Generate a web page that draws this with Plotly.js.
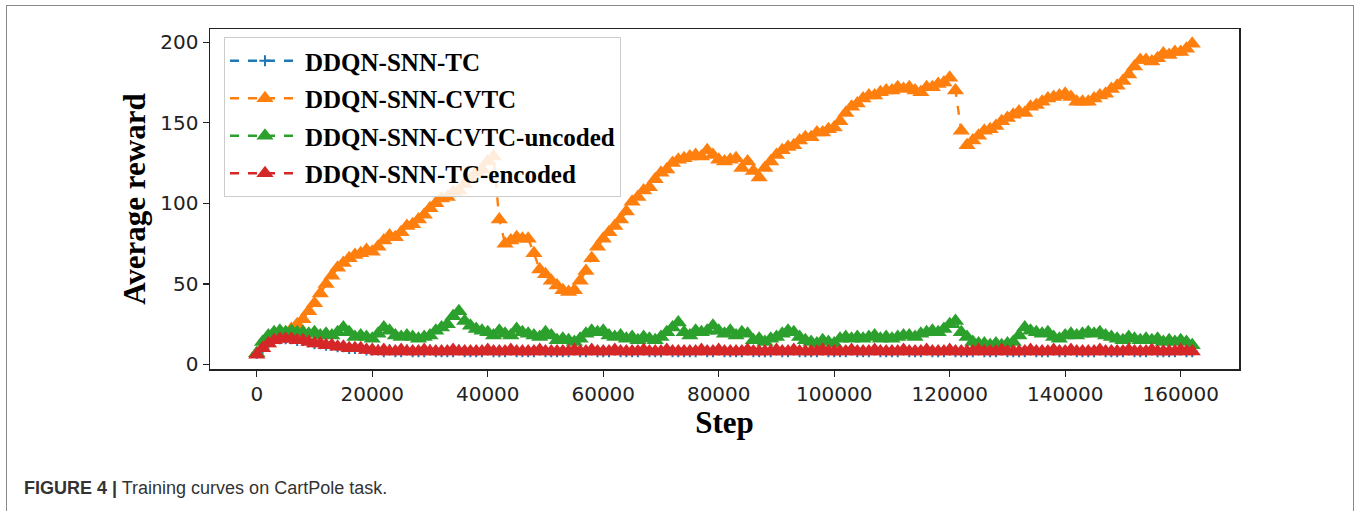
<!DOCTYPE html>
<html>
<head>
<meta charset="utf-8">
<script src="https://cdn.plot.ly/plotly-3.0.1.min.js"></script>
<style>
  html, body { margin: 0; padding: 0; background: #ffffff; }
  #wrap { position: relative; width: 1357px; height: 511px; overflow: hidden; }
  #frame { position: absolute; left: 6px; top: 5px; width: 1348px; height: 520px;
           border: 1.5px solid #8a8a8a; box-sizing: border-box; pointer-events: none; }
  #chart { position: absolute; left: 0; top: 0; width: 1357px; height: 511px; }
</style>
</head>
<body>
<div id="wrap">
  <div id="chart"></div>
  <div id="frame"></div>
</div>
<script>
// ---------------- data ----------------
const seriesNames = ["DDQN-SNN-TC", "DDQN-SNN-CVTC", "DDQN-SNN-CVTC-uncoded", "DDQN-SNN-TC-encoded"];
const stepInterval = 1000;   // one point logged every 1000 steps (0 ... 162000)

const rewardTC = [
  7,10,13,15,16,16,16,15,15,14, 13,13,12,12,11,11,10,10,10,9,
  9,9,8,9,8,8,9,8,8,8, 9,8,8,8,8,9,8,8,8,8,
  9,8,8,8,9,8,8,8,8,9, 8,8,8,8,8,9,8,8,9,8,
  8,8,9,8,8,8,8,9,8,8, 8,9,8,8,8,8,8,9,8,8,
  9,8,8,8,8,9,8,8,8,8, 9,8,8,9,8,8,8,8,9,8,
  8,8,8,9,8,8,8,9,8,8, 8,8,9,8,8,8,9,8,8,8,
  9,8,8,8,8,9,8,8,8,9, 8,8,8,8,9,8,8,8,9,8,
  8,9,8,8,8,8,9,8,8,8, 8,9,8,8,8,9,8,8,8,8,
  9,8,8
];

const rewardCVTC = [
  7,10,13,15,17,19,22,25,28,33, 38,44,50,55,60,63,66,68,69,71,
  70,73,77,80,79,82,86,87,90,93, 97,100,103,104,107,108,112,115,119,121,
  126,129,90,75,77,79,78,78,69,59, 56,52,49,46,45,46,52,58,66,73,
  78,82,86,90,95,101,104,108,110,115, 119,121,125,127,128,129,130,129,133,130,
  127,126,127,128,122,126,120,116,122,126, 130,133,135,136,139,141,141,144,144,146,
  147,151,156,160,162,165,167,167,169,170, 170,172,171,172,170,169,172,172,174,175,
  178,170,145,136,139,142,145,146,148,151, 153,155,157,156,160,161,163,165,166,167,
  168,166,163,163,163,165,167,168,171,173, 176,180,185,189,189,188,190,193,192,194,
  194,196,199
];

const rewardCVTCUncoded = [
  7,14,18,20,21,20,21,20,20,19, 20,18,19,18,20,23,20,17,18,17,
  16,19,23,21,18,17,18,17,16,17, 18,21,23,25,30,33,27,24,22,21,
  20,18,21,19,18,22,20,19,18,17, 20,18,15,16,15,14,16,19,21,20,
  21,18,17,18,16,17,15,17,16,15, 17,20,23,26,20,18,21,20,21,24,
  21,19,21,18,20,19,15,16,14,16, 17,19,21,20,17,15,14,13,15,14,
  13,16,17,16,17,16,17,18,16,17, 16,17,18,18,17,19,20,21,20,22,
  25,27,20,17,14,13,13,12,13,12, 13,14,18,23,21,20,19,20,17,16,
  18,19,18,19,20,19,20,18,17,16, 15,17,16,15,16,15,16,14,15,14,
  15,14,12
];

const rewardTCEncoded = [
  6,10,13,15,16,16,16,15,15,14, 13,13,12,12,11,11,10,10,10,9,
  9,8,9,8,8,9,8,8,8,9, 8,8,8,8,9,8,8,8,8,8,
  9,8,8,8,9,8,8,8,8,9, 8,8,8,8,8,9,8,8,9,8,
  8,8,9,8,8,8,8,9,8,8, 8,9,8,8,8,8,8,9,8,8,
  9,8,8,8,8,9,8,8,8,8, 9,8,8,9,8,8,8,8,9,8,
  8,8,8,9,8,8,8,9,8,8, 8,8,9,8,8,8,9,8,8,8,
  9,8,8,8,8,9,8,8,8,9, 8,8,8,8,9,8,8,8,9,8,
  8,9,8,8,8,8,9,8,8,8, 8,9,8,8,8,9,8,8,8,8,
  9,8,8
];

const xTickVals = [0, 20000, 40000, 60000, 80000, 100000, 120000, 140000, 160000];
const yTickVals = [0, 50, 100, 150, 200];
const xTitle = "Step";
const yTitle = "Average reward";
const captionBold = "FIGURE 4 |";
const captionText = "Training curves on CartPole task.";

// ---------------- build ----------------
const steps = rewardCVTC.map((_, i) => i * stepInterval);
const colors = ["#1f77b4", "#ff7f0e", "#2ca02c", "#d62728"];
const allValues = [rewardTC, rewardCVTC, rewardCVTCUncoded, rewardTCEncoded];
const symbols = ["cross-thin", "triangle-up", "triangle-up", "triangle-up"];

const traces = allValues.map((vals, k) => ({
  type: "scatter",
  mode: "lines+markers",
  name: seriesNames[k],
  legendgroup: "g" + k,
  x: steps,
  y: vals,
  line: { color: colors[k], width: 2.4, dash: "dash" },
  marker: {
    symbol: symbols[k],
    size: k === 0 ? 8 : 15,
    color: colors[k],
    line: { color: colors[k], width: k === 0 ? 2 : 0 }
  }
}));

const W = 1357, H = 511;
const ml = 210, mr = W - 1239, mt = 29, mb = H - 369;
const pw = W - ml - mr, ph = H - mt - mb;
const px = v => (v - ml) / pw;
const py = v => (H - mb - v) / ph;

const layout = {
  width: W, height: H,
  margin: { l: ml, r: mr, t: mt, b: mb, pad: 0 },
  paper_bgcolor: "#ffffff",
  plot_bgcolor: "#ffffff",
  showlegend: true,
  legend: {
    x: px(224), y: py(37), xanchor: "left", yanchor: "top",
    bgcolor: "rgba(255,255,255,0.85)",
    bordercolor: "#cccccc", borderwidth: 1,
    font: { family: "Liberation Serif, 'Times New Roman', serif", size: 25, color: "#000000", weight: "bold" },
    itemwidth: 70,
    tracegroupgap: 2
  },
  xaxis: {
    range: [-8100, 170100],
    tickvals: xTickVals,
    ticktext: xTickVals.map(String),
    ticks: "outside", ticklen: 6, tickwidth: 1.2, tickcolor: "#222",
    showline: true, linecolor: "#222", linewidth: 1.5, mirror: true,
    showgrid: false, zeroline: false,
    tickfont: { family: "DejaVu Sans, sans-serif", size: 20, color: "#222" },
    title: { text: xTitle, standoff: 4,
             font: { family: "Liberation Serif, 'Times New Roman', serif", size: 31, color: "#000", weight: "bold" } }
  },
  yaxis: {
    range: [-2.8, 208.2],
    tickvals: yTickVals,
    ticktext: yTickVals.map(String),
    ticks: "outside", ticklen: 6, tickwidth: 1.2, tickcolor: "#222",
    showline: true, linecolor: "#222", linewidth: 1.5, mirror: true,
    showgrid: false, zeroline: false,
    tickfont: { family: "DejaVu Sans, sans-serif", size: 20, color: "#222" },
    title: { text: yTitle, standoff: 5,
             font: { family: "Liberation Serif, 'Times New Roman', serif", size: 31, color: "#000", weight: "bold" } }
  },
  annotations: [
    {
      xref: "paper", yref: "paper", x: px(22), y: py(500), xanchor: "left", yanchor: "bottom",
      showarrow: false, align: "left",
      text: "<b>" + captionBold + "</b> " + captionText,
      font: { family: "'Liberation Sans Narrow', 'Arial Narrow', 'Liberation Sans', sans-serif", size: 18, color: "#333333" }
    }
  ]
};

Plotly.newPlot("chart", traces, layout, { displayModeBar: false, staticPlot: true });
</script>
</body>
</html>
